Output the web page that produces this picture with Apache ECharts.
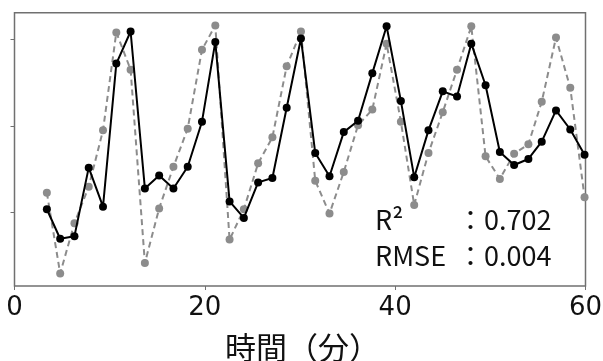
<!DOCTYPE html>
<html>
<head>
<meta charset="utf-8">
<script src="https://cdn.jsdelivr.net/npm/echarts@6/dist/echarts.min.js"></script>
<style>
  html, body { margin: 0; padding: 0; background: #fff; }
  #chart { width: 603px; height: 361px; }
</style>
</head>
<body>
<div id="chart"></div>
<script>
// sampling times (minutes)
const times = [3.4, 4.8, 6.3, 7.8, 9.3, 10.7, 12.2, 13.7, 15.2, 16.7, 18.2, 19.7, 21.1,
  22.6, 24.1, 25.6, 27.1, 28.6, 30.1, 31.6, 33.1, 34.6, 36.1, 37.6, 39.1, 40.6, 42.0,
  43.5, 45.0, 46.5, 48.0, 49.5, 51.0, 52.5, 54.0, 55.4, 56.9, 58.4, 59.9]

// black solid line
const measured = [1.04, 0.70, 0.73, 1.52, 1.07, 2.72, 3.09, 1.28, 1.43, 1.28, 1.53, 2.05, 2.97,
  1.13, 0.94, 1.35, 1.40, 2.21, 3.01, 1.69, 1.42, 1.93, 2.06, 2.61, 3.15, 2.29, 1.41,
  1.95, 2.40, 2.34, 2.95, 2.47, 1.70, 1.55, 1.62, 1.82, 2.18, 1.96, 1.67]

// gray dashed line
const predicted = [1.23, 0.30, 0.88, 1.30, 1.95, 3.08, 2.65, 0.42, 1.05, 1.53, 1.97, 2.88, 3.16,
  0.69, 1.04, 1.57, 1.87, 2.69, 3.09, 1.37, 0.99, 1.47, 2.01, 2.19, 2.95, 2.05, 1.09,
  1.69, 2.16, 2.65, 3.15, 1.65, 1.39, 1.68, 1.79, 2.28, 3.02, 2.44, 1.18]

const xTicks = [0, 20, 40, 60]
const yTicks = [1, 2, 3]
const stats = [
  { label: 'R²', value: '：0.702' },
  { label: 'RMSE', value: '：0.004' },
]

const chart = echarts.init(document.getElementById('chart'))

const spine = '#707070'

const option = {
  animation: false,
  grid: {
    left: 14.5,
    right: 17.5,
    top: 12.7,
    bottom: 75,
    outerBoundsMode: 'none',
    containLabel: false,
    show: true,
    borderColor: spine,
    borderWidth: 1.5,
    backgroundColor: '#fff',
  },
  xAxis: {
    type: 'value',
    min: 0,
    max: 60,
    interval: 20,
    name: '時間（分）',
    nameLocation: 'middle',
    nameGap: 46,
    nameTextStyle: {
      fontFamily: 'Noto Sans CJK JP',
      fontSize: 31,
      color: '#111',
      padding: [0, 0, 0, 5],
    },
    axisLine: { show: false },
    axisTick: { show: true, length: 4, lineStyle: { color: spine, width: 1 }, customValues: xTicks },
    axisLabel: {
      fontFamily: 'DejaVu Sans',
      fontSize: 26,
      color: '#111',
      margin: 9,
      customValues: xTicks,
    },
    splitLine: { show: false },
  },
  yAxis: {
    type: 'value',
    min: 0.155,
    max: 3.307,
    axisLine: { show: false },
    axisTick: { show: true, length: 4, lineStyle: { color: spine, width: 1 }, customValues: yTicks },
    axisLabel: { show: false },
    splitLine: { show: false },
  },
  graphic: stats.flatMap((s, i) => [
    {
      type: 'text',
      left: 375,
      top: 206 + i * 36,
      style: { text: s.label, fontFamily: 'Noto Sans CJK JP', fontSize: 27, fill: '#111' },
    },
    {
      type: 'text',
      left: 457,
      top: 206 + i * 36,
      style: { text: s.value, fontFamily: 'Noto Sans CJK JP', fontSize: 27, fill: '#111' },
    },
  ]),
  series: [
    {
      name: '予測',
      type: 'line',
      data: times.map((t, i) => [t, predicted[i]]),
      symbol: 'circle',
      symbolSize: 8,
      itemStyle: { color: '#8c8c8c' },
      lineStyle: { color: '#8c8c8c', width: 2, type: [6, 4] },
      z: 2,
    },
    {
      name: '実測',
      type: 'line',
      data: times.map((t, i) => [t, measured[i]]),
      symbol: 'circle',
      symbolSize: 8,
      itemStyle: { color: '#000' },
      lineStyle: { color: '#000', width: 2 },
      z: 3,
    },
  ],
}

chart.setOption(option)
</script>
</body>
</html>
